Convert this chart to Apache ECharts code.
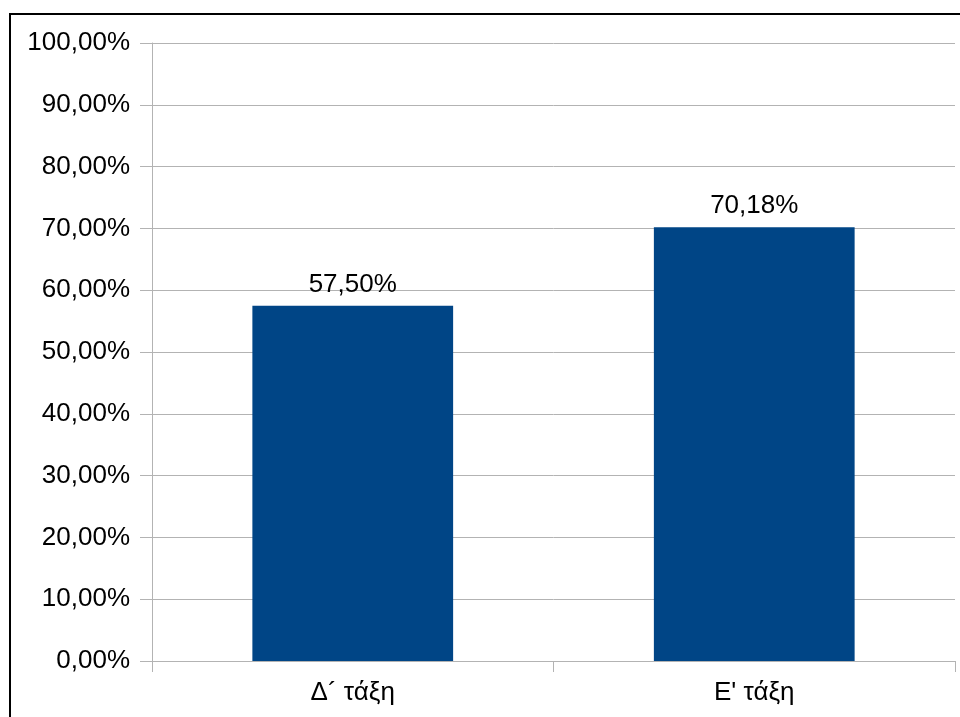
<!DOCTYPE html>
<html><head><meta charset="utf-8">
<script src="https://cdn.jsdelivr.net/npm/echarts@6/dist/echarts.min.js"></script>
<style>html,body{margin:0;padding:0;background:#fff}#c{width:960px;height:717px}</style>
</head><body><div id="c"></div>
<script>
const categories = ["Δ´ τάξη", "Ε' τάξη"];
const values = [57.50, 70.18];
const yMin = 0, yMax = 100, yStep = 10;

function fmt(v){ return v.toFixed(2).replace('.', ',') + '%'; }

const chart = echarts.init(document.getElementById('c'), null, {renderer:'canvas'});
chart.setOption({
  animation:false,
  backgroundColor:'#ffffff',
  textStyle:{fontFamily:'Liberation Sans'},
  graphic:[{type:'rect', shape:{x:10, y:14, width:1000, height:800}, style:{fill:'none', stroke:'#000', lineWidth:2}, z:100}],
  grid:{left:152, right:5, top:43, bottom:56},
  xAxis:{
    type:'category', data:categories,
    axisLine:{lineStyle:{color:'#b3b3b3', width:1}},
    axisTick:{show:true, length:11, alignWithLabel:false, lineStyle:{color:'#b3b3b3'}},
    axisLabel:{color:'#000', fontSize:26, margin:19, fontFamily:'Liberation Sans'}
  },
  yAxis:{
    type:'value', min:yMin, max:yMax, interval:yStep,
    axisLine:{show:true, lineStyle:{color:'#b3b3b3', width:1}},
    axisTick:{show:true, length:12, lineStyle:{color:'#b3b3b3'}},
    splitLine:{show:true, lineStyle:{color:'#b3b3b3', width:1}},
    axisLabel:{color:'#000', fontSize:26, margin:22, formatter:fmt, fontFamily:'Liberation Sans'}
  },
  series:[{
    type:'bar', data:values, barWidth:'50%',
    itemStyle:{color:'#004586'},
    label:{show:true, position:'top', distance:8, color:'#000', fontSize:26, fontFamily:'Liberation Sans', formatter:p=>fmt(p.value)}
  }]
});
</script></body></html>
